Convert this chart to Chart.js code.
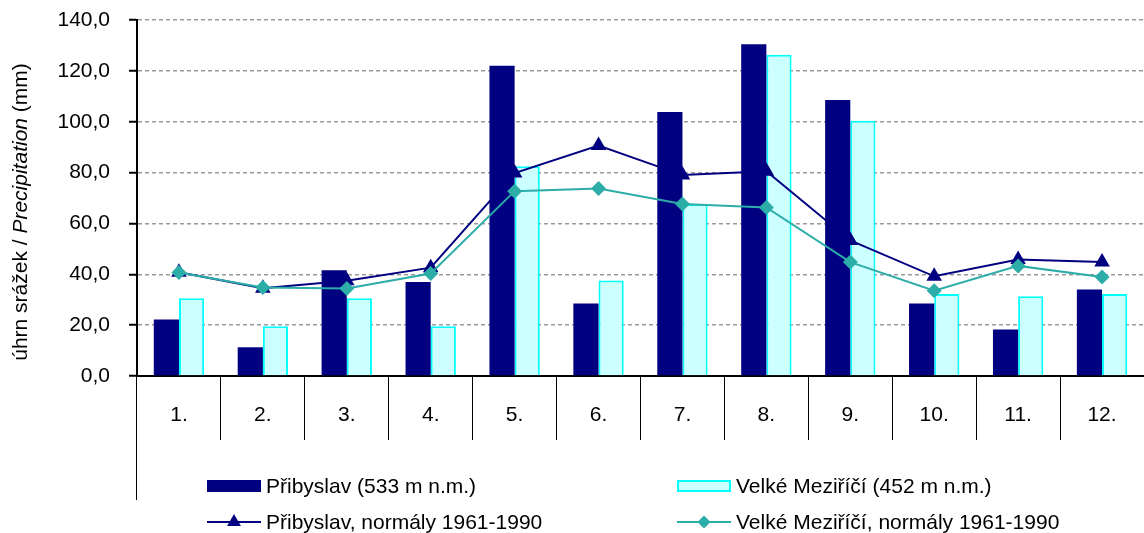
<!DOCTYPE html>
<html>
<head>
<meta charset="utf-8">
<script src="https://cdn.jsdelivr.net/npm/chart.js@4.4.1/dist/chart.umd.min.js"></script>
<style>
    html, body { margin: 0; padding: 0; background: #fff; }
</style>
</head>
<body>
<canvas id="srazky" width="1144" height="533"></canvas>
<script>
    // months and monthly precipitation (mm)
    var months = ['1.', '2.', '3.', '4.', '5.', '6.', '7.', '8.', '9.', '10.', '11.', '12.'];
    var pribyslav = [22.2, 11.3, 41.6, 37.0, 122.0, 28.5, 103.8, 130.5, 108.5, 28.5, 18.3, 34.0];
    var mezirici = [30.6, 19.6, 30.6, 19.6, 82.5, 37.6, 67.5, 126.3, 100.4, 32.2, 31.4, 32.2];
    var pribyslavNormal = [40.8, 34.5, 37.5, 42.6, 79.8, 90.6, 79.0, 80.5, 53.3, 39.2, 45.8, 44.8];
    var meziriciNormal = [40.7, 34.8, 34.4, 40.3, 72.7, 73.7, 67.6, 66.3, 44.8, 33.5, 43.3, 38.9];
    var yMin = 0, yMax = 140, yStep = 20;

    var FONT = '"Liberation Sans", Arial, sans-serif';
    var FSIZE = 21;

    // rotated y title, with italic "Precipitation"
    var yTitle = {
        id: 'yTitle',
        afterDraw: function(chart) {
            var ctx = chart.ctx;
            var parts = [['úhrn srážek / ', ''], ['Precipitation', 'italic '], [' (mm)', '']];
            ctx.save();
            ctx.translate(21, (chart.chartArea.top + chart.chartArea.bottom) / 2 + 14);
            ctx.rotate(-Math.PI / 2);
            ctx.fillStyle = '#000';
            ctx.textBaseline = 'middle';
            var total = 0;
            parts.forEach(function(p) {
                ctx.font = p[1] + FSIZE + 'px ' + FONT;
                total += ctx.measureText(p[0]).width;
            });
            var x = -total / 2;
            parts.forEach(function(p) {
                ctx.font = p[1] + FSIZE + 'px ' + FONT;
                ctx.fillText(p[0], x, 0);
                x += ctx.measureText(p[0]).width;
            });
            ctx.restore();
        }
    };

    // legend in two columns under the category table
    var legendCols = {
        id: 'legendCols',
        afterDraw: function(chart) {
            var ctx = chart.ctx;
            var area = chart.chartArea;
            var cols = [area.left + 70, area.left + 540];
            var rows = [area.bottom + 110, area.bottom + 146];
            var place = [[0, 0], [1, 0], [0, 1], [1, 1]];
            chart.data.datasets.forEach(function(ds, i) {
                var x = cols[place[i][0]], y = rows[place[i][1]];
                ctx.save();
                if (ds.type === 'line') {
                    ctx.strokeStyle = ds.borderColor;
                    ctx.lineWidth = 2;
                    ctx.beginPath();
                    ctx.moveTo(x, y);
                    ctx.lineTo(x + 54, y);
                    ctx.stroke();
                    ctx.fillStyle = ds.pointBackgroundColor;
                    Chart.helpers.drawPoint(ctx, {
                        pointStyle: ds.pointStyle,
                        radius: ds.pointRadius - 1,
                        rotation: 0,
                        borderWidth: 0
                    }, x + 27, y);
                } else {
                    ctx.fillStyle = ds.backgroundColor;
                    ctx.fillRect(x, y - 6, 54, 12);
                    ctx.strokeStyle = ds.borderColor;
                    ctx.lineWidth = 2;
                    ctx.strokeRect(x + 1, y - 5, 52, 10);
                }
                ctx.fillStyle = '#000';
                ctx.font = FSIZE + 'px ' + FONT;
                ctx.textBaseline = 'middle';
                ctx.fillText(ds.label, x + 59, y + 1);
                ctx.restore();
            });
        }
    };

    // the y axis line keeps going down past the table
    var leftLine = {
        id: 'leftLine',
        afterDraw: function(chart) {
            var ctx = chart.ctx;
            var area = chart.chartArea;
            ctx.save();
            ctx.strokeStyle = '#000';
            ctx.lineWidth = 1;
            ctx.beginPath();
            ctx.moveTo(area.left - 0.5, area.bottom);
            ctx.lineTo(area.left - 0.5, area.bottom + 124);
            ctx.stroke();
            ctx.restore();
        }
    };

    var ctx = document.getElementById('srazky').getContext('2d');
    var chart = new Chart(ctx, {
        type: 'bar',
        data: {
            labels: months,
            datasets: [{
                type: 'bar',
                label: 'Přibyslav (533 m n.m.)',
                data: pribyslav,
                backgroundColor: '#000080',
                borderColor: '#000080',
                borderWidth: 0,
                categoryPercentage: 0.6,
                barPercentage: 1.0,
                order: 2
            }, {
                type: 'bar',
                label: 'Velké Meziříčí (452 m n.m.)',
                data: mezirici,
                backgroundColor: '#CCFFFF',
                borderColor: '#00FFFF',
                borderWidth: 2,
                categoryPercentage: 0.6,
                barPercentage: 1.0,
                order: 2
            }, {
                type: 'line',
                label: 'Přibyslav, normály 1961-1990',
                data: pribyslavNormal,
                borderColor: '#000080',
                borderWidth: 2,
                pointStyle: 'triangle',
                pointRadius: 9,
                pointBackgroundColor: '#000080',
                pointBorderColor: '#000080',
                pointBorderWidth: 0,
                tension: 0,
                order: 1
            }, {
                type: 'line',
                label: 'Velké Meziříčí, normály 1961-1990',
                data: meziriciNormal,
                borderColor: '#2CADA8',
                borderWidth: 2,
                pointStyle: 'rectRot',
                pointRadius: 7.5,
                pointBackgroundColor: '#2CADA8',
                pointBorderColor: '#2CADA8',
                pointBorderWidth: 0,
                tension: 0,
                order: 0
            }]
        },
        options: {
            responsive: false,
            animation: false,
            layout: { autoPadding: false, padding: { top: 20, right: 0, bottom: 0, left: 0 } },
            plugins: {
                legend: { display: false },
                tooltip: { enabled: false }
            },
            scales: {
                x: {
                    offset: true,
                    afterFit: function(scale) {
                        scale.height = 157;
                        scale.paddingLeft = 0;
                        scale.paddingRight = 0;
                    },
                    grid: {
                        offset: true,
                        drawOnChartArea: false,
                        tickLength: 64,
                        tickColor: '#000',
                        tickWidth: 1
                    },
                    border: { color: '#000', width: 2 },
                    ticks: {
                        color: '#000',
                        font: { family: FONT, size: FSIZE },
                        padding: -37,
                        maxRotation: 0
                    }
                },
                y: {
                    min: yMin,
                    max: yMax,
                    afterFit: function(scale) {
                        scale.width = 137;
                        scale.paddingTop = 0;
                        scale.paddingBottom = 0;
                    },
                    grid: {
                        color: '#999999',
                        lineWidth: 1.5,
                        tickLength: 8,
                        tickColor: '#000',
                        tickWidth: 2,
                        tickBorderDash: []
                    },
                    border: { color: '#000', width: 2, dash: [4, 3] },
                    ticks: {
                        stepSize: yStep,
                        color: '#000',
                        padding: 19,
                        font: { family: FONT, size: FSIZE },
                        callback: function(v) { return v.toFixed(1).replace('.', ','); }
                    }
                }
            }
        },
        plugins: [yTitle, legendCols, leftLine]
    });
</script>
</body>
</html>
